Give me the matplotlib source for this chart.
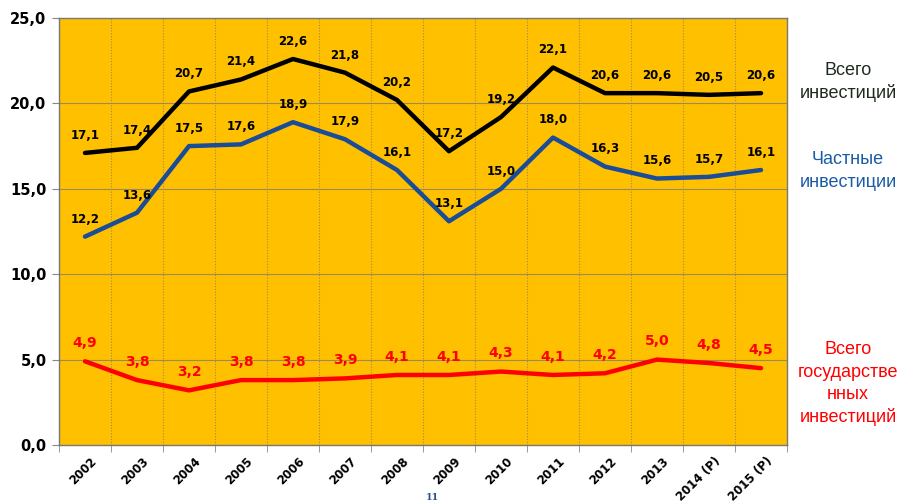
import matplotlib
matplotlib.use("Agg")
import matplotlib.pyplot as plt
import matplotlib.transforms as mtransforms
import numpy as np

years = ["2002", "2003", "2004", "2005", "2006", "2007", "2008", "2009", "2010",
         "2011", "2012", "2013", "2014 (P)", "2015 (P)"]
total = [17.1, 17.4, 20.7, 21.4, 22.6, 21.8, 20.2, 17.2, 19.2, 22.1, 20.6, 20.6, 20.5, 20.6]
private = [12.2, 13.6, 17.5, 17.6, 18.9, 17.9, 16.1, 13.1, 15.0, 18.0, 16.3, 15.6, 15.7, 16.1]
public = [4.9, 3.8, 3.2, 3.8, 3.8, 3.9, 4.1, 4.1, 4.3, 4.1, 4.2, 5.0, 4.8, 4.5]
yticks = [0, 5, 10, 15, 20, 25]

plt.rcParams['font.family'] = ['DejaVu Sans']

fig = plt.figure(figsize=(8.98, 5.03), dpi=100)
ax = fig.add_axes([59/898, 58/503, 728/898, 427/503])
ax.set_facecolor("#FFC000")

x = np.arange(len(years))
ax.set_xlim(-0.5, len(years) - 0.5)
ax.set_ylim(0, 25)

# grid
for yv in yticks[1:-1]:
    ax.axhline(yv, color="#9C8A5C", lw=0.8, zorder=1)
for b in np.arange(0.5, len(years) - 0.5, 1):
    ax.axvline(b, color="#9C8A5C", lw=0.8, ls=(0, (1, 1.5)), zorder=1)

def fmt(v):
    return f"{v:.1f}".replace(".", ",")

ax.plot(x, total, color="black", lw=3.2, zorder=3, solid_capstyle="round")
ax.plot(x, private, color="#1A4C97", lw=3.2, zorder=3, solid_capstyle="round")
ax.plot(x, public, color="#FF0000", lw=3.2, zorder=3, solid_capstyle="round")

for xi, v in zip(x, total):
    ax.annotate(fmt(v), (xi, v), xytext=(0, 8), textcoords="offset points",
                ha="center", va="bottom", fontsize=8.5, fontweight="bold", color="black")
for xi, v in zip(x, private):
    ax.annotate(fmt(v), (xi, v), xytext=(0, 8), textcoords="offset points",
                ha="center", va="bottom", fontsize=8.5, fontweight="bold", color="black")
for xi, v in zip(x, public):
    ax.annotate(fmt(v), (xi, v), xytext=(0, 8), textcoords="offset points",
                ha="center", va="bottom", fontsize=10, fontweight="bold", color="#FF0000")

ax.set_yticks(yticks)
ax.set_yticklabels([fmt(float(v)) for v in yticks], fontsize=10.5, fontweight="bold")
ax.set_xticks(x)
ax.set_xticklabels(years, rotation=45, ha="right", rotation_mode="anchor",
                   fontsize=8.5, fontweight="bold")
ax.tick_params(axis="x", length=0, pad=7)
offset = mtransforms.ScaledTranslation(5/100, 0, fig.dpi_scale_trans)
for lbl in ax.get_xticklabels():
    lbl.set_transform(lbl.get_transform() + offset)
ax.set_xticks(np.arange(-0.5, len(years), 1), minor=True)
ax.tick_params(axis="x", which="minor", length=5, color="#888888")
ax.tick_params(axis="y", length=5, color="#888888", pad=4)

for s in ax.spines.values():
    s.set_color("#777777")
    s.set_linewidth(1)

side = dict(ha="center", va="center", fontsize=13, linespacing=1.4,
            family="Liberation Sans")
fig.text(848/898, 1 - 82/503, "Всего\nинвестиций", color="#1E2B1E", **side)
fig.text(848/898, 1 - 171/503, "Частные\nинвестиции", color="#1A5BA6", **side)
fig.text(848/898, 1 - 384/503, "Всего\nгосударстве\nнных\nинвестиций",
         color="#FF0000", **side)
fig.text(432/898, 1 - 497/503, "11", ha="center", va="center", fontsize=7,
         color="#2B4C8C", family="DejaVu Serif", fontweight="bold")

fig.savefig("out.png", dpi=100)
